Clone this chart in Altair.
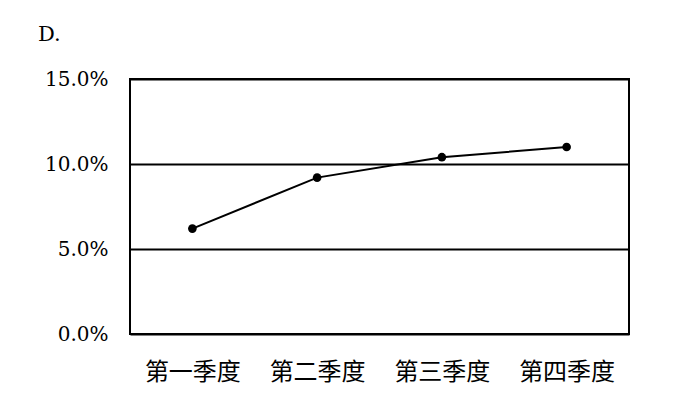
"""Quarterly rate line chart, option D."""

import altair as alt
import pandas as pd

quarters = ["第一季度", "第二季度", "第三季度", "第四季度"]
rates = [0.062, 0.092, 0.104, 0.110]
y_ticks = [0.0, 0.05, 0.10, 0.15]

df = pd.DataFrame({"quarter": quarters, "rate": rates})

x_enc = alt.X(
    "quarter:N",
    sort=quarters,
    title=None,
    scale=alt.Scale(paddingInner=0, paddingOuter=0),
    axis=alt.Axis(
        labelAngle=0,
        labelFont="Noto Sans CJK SC",
        labelFontSize=24,
        labelColor="black",
        labelPadding=26,
        ticks=False,
        domain=False,
        grid=False,
    ),
)
y_enc = alt.Y(
    "rate:Q",
    title=None,
    scale=alt.Scale(domain=[0, 0.15], nice=False),
    axis=alt.Axis(
        values=y_ticks,
        format=".1%",
        labelFont="DejaVu Serif",
        labelFontSize=20,
        labelColor="black",
        labelPadding=22,
        ticks=False,
        domain=False,
        grid=True,
        gridColor="black",
        gridWidth=2,
        gridOpacity=1,
    ),
)

line = alt.Chart(df).mark_line(color="black", strokeWidth=2).encode(x=x_enc, y=y_enc)
dots = (
    alt.Chart(df)
    .mark_circle(color="black", size=75, opacity=1)
    .encode(x=x_enc, y=y_enc)
)

chart = (
    alt.layer(line, dots)
    .properties(
        width=499,
        height=255,
        autosize=alt.AutoSizeParams(type="none"),
        padding={"left": 122, "top": 71, "right": 60, "bottom": 60},
        title=alt.TitleParams(
            "D.",
            anchor="start",
            frame="group",
            font="DejaVu Serif",
            fontSize=21,
            fontWeight="normal",
            color="black",
            dx=-92,
            offset=24,
        ),
    )
    .configure(background="white")
    .configure_view(stroke="black", strokeWidth=2)
)

chart.save("out.html", embed_options={"renderer": "svg", "actions": False})
